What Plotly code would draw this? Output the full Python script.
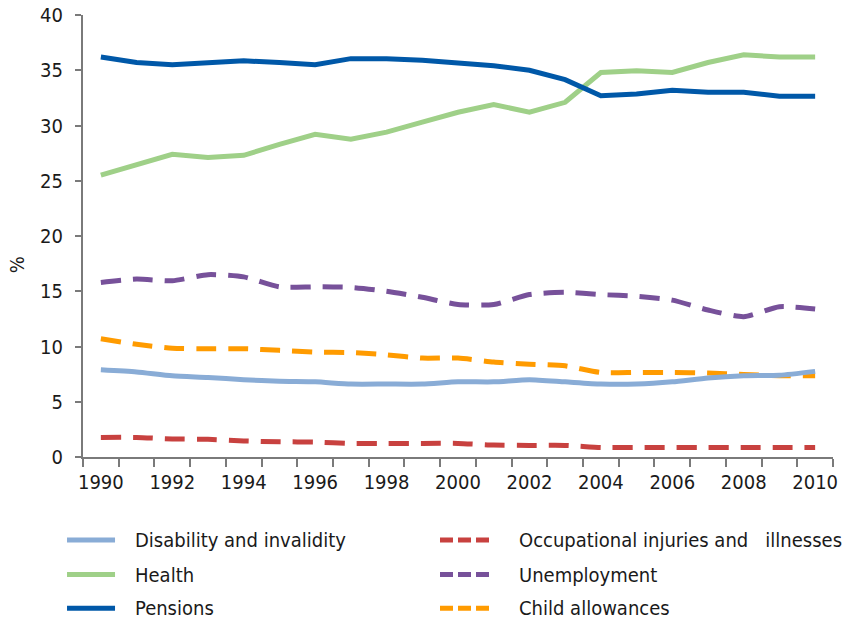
import plotly.graph_objects as go

years = list(range(1990, 2011))

pensions = [36.2, 35.7, 35.5, 35.7, 35.85, 35.7, 35.5, 36.05, 36.05, 35.9, 35.7, 35.4, 35.0, 34.15,
            32.7, 32.85, 33.2, 33.0, 33.0, 32.65, 32.65]
health = [25.5, 26.4, 27.4, 27.1, 27.3, 28.3, 29.2, 28.75, 29.4, 30.3, 31.2, 31.9, 31.2, 32.1,
          34.8, 34.95, 34.8, 35.7, 36.4, 36.2, 36.2]
unemployment = [15.8, 16.1, 15.95, 16.5, 16.3, 15.4, 15.4, 15.35, 15.0, 14.45, 13.8, 13.8, 14.7, 14.9,
                14.7, 14.55, 14.2, 13.3, 12.7, 13.6, 13.4]
child = [10.7, 10.2, 9.85, 9.8, 9.8, 9.65, 9.5, 9.45, 9.25, 8.95, 8.95, 8.6, 8.4, 8.25,
         7.65, 7.65, 7.65, 7.6, 7.47, 7.35, 7.35]
disability = [7.9, 7.7, 7.35, 7.2, 7.0, 6.85, 6.8, 6.6, 6.6, 6.6, 6.8, 6.8, 7.0, 6.8,
              6.6, 6.6, 6.8, 7.15, 7.35, 7.4, 7.75]
occupational = [1.77, 1.77, 1.63, 1.6, 1.45, 1.38, 1.35, 1.23, 1.23, 1.23, 1.23, 1.08, 1.05, 1.05,
                0.87, 0.87, 0.87, 0.87, 0.87, 0.87, 0.87]

names = ["Disability and invalidity", "Health", "Pensions",
         "Occupational injuries and\u00a0\u00a0 illnesses", "Unemployment", "Child allowances"]
series = [disability, health, pensions, occupational, unemployment, child]
colors = ["#89acd6", "#9fd088", "#0058a8", "#c8413f", "#77519a", "#ff9b00"]
dashes = ["solid", "solid", "solid", "20px,12px", "20px,12px", "20px,12px"]
shapes_ = ["spline", "linear", "linear", "spline", "spline", "spline"]
y_title = "%"

FONT = "DejaVu Sans Condensed, Liberation Sans Narrow, sans-serif"
TXT = "#1a1a1a"

fig = go.Figure()
order = [3, 4, 5, 0, 1, 2]
for i in order:
    fig.add_trace(go.Scatter(
        x=years, y=series[i], mode="lines", name=names[i], showlegend=False,
        line=dict(color=colors[i], width=5, dash=dashes[i], shape=shapes_[i], smoothing=0.6),
    ))

# manual legend
shapes = []
annotations = []
rows_y = [-0.188, -0.266, -0.342]
cols = [(-0.0213, 0.0427, 0.0667), (0.476, 0.545, 0.5787)]
for k in range(6):
    c = k // 3
    r = k % 3
    x0, x1, xt = cols[c]
    y = rows_y[r]
    shapes.append(dict(type="line", xref="paper", yref="paper", x0=x0, x1=x1, y0=y, y1=y,
                       line=dict(color=colors[k], width=5,
                                 dash="solid" if dashes[k] == "solid" else "13px,5px")))
    annotations.append(dict(xref="paper", yref="paper", x=xt, y=y, text=names[k],
                            showarrow=False, xanchor="left", yanchor="middle",
                            font=dict(family=FONT, size=20, color=TXT)))

# y-axis title (placed lower than centre, as in the original)
annotations.append(dict(xref="paper", yref="paper", x=-0.088, y=0.434, text=y_title,
                        textangle=-90, showarrow=False, xanchor="center", yanchor="middle",
                        font=dict(family=FONT, size=20, color=TXT)))

fig.update_layout(
    width=858, height=622,
    margin=dict(l=83, r=25, t=15, b=165, autoexpand=False),
    paper_bgcolor="white", plot_bgcolor="white",
    font=dict(family=FONT, size=20, color=TXT),
    shapes=shapes, annotations=annotations,
    showlegend=False,
)
fig.update_xaxes(
    range=[1989.5, 2010.5], tickmode="array",
    tickvals=list(range(1990, 2011, 2)), ticktext=[str(y) for y in range(1990, 2011, 2)],
    ticks="", showgrid=False, zeroline=False, automargin=False,
    showline=True, linecolor="#7a7a7a", linewidth=2,
    ticklabelstandoff=6, ticklabeloverflow="allow",
    minor=dict(tick0=1989.5, dtick=1, ticks="outside", ticklen=8, tickcolor="#7a7a7a",
               tickwidth=2, showgrid=False),
    tickfont=dict(family=FONT, size=20, color=TXT),
)
fig.update_yaxes(
    range=[0, 40], dtick=5, ticks="outside", ticklen=6, tickcolor="#7a7a7a", tickwidth=2,
    showgrid=False, zeroline=False, showline=True, linecolor="#7a7a7a", linewidth=2,
    automargin=False, ticklabelstandoff=8, ticklabeloverflow="allow",
    tickfont=dict(family=FONT, size=20, color=TXT),
)

fig.write_html("out.html", config={"displayModeBar": False},
               post_script="document.body.style.margin='0';")
